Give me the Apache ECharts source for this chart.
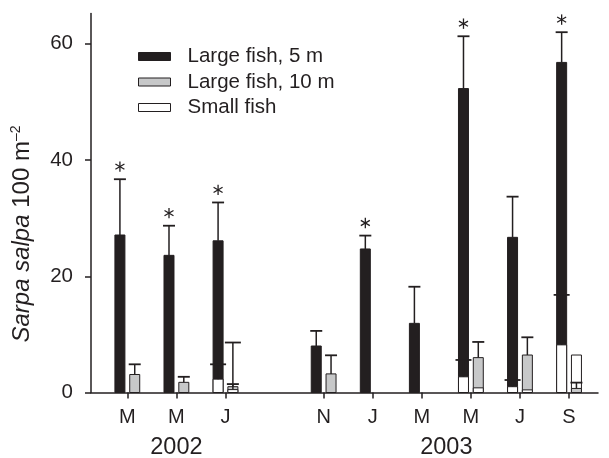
<!DOCTYPE html>
<html>
<head>
<meta charset="utf-8">
<script src="https://cdn.jsdelivr.net/npm/echarts@6/dist/echarts.min.js"></script>
<style>
  html, body { margin: 0; padding: 0; background: #fff; }
  #chart { width: 609px; height: 458px; }
</style>
</head>
<body>
<div id="chart"></div>
<script>
// Sampling occasions; slot 3 is the empty gap between the two survey years
const months = ['M', 'M', 'J', '', 'N', 'J', 'M', 'M', 'J', 'S'];
const yearNames = ['2002', '2003'];
const yearFirst = [0, 4];
const yearLast = [2, 9];

// Mean density (fish per 100 m2) and standard error
const large5    = [27.1, 23.6, 26.1, null, 8.0, 24.7, 11.9, 52.3, 26.7, 56.8];
const large5SE  = [9.6,  5.1,  6.6,  null, 2.6, 2.3,  6.3,  9.0,  7.0,  5.2];
const large10   = [3.1,  1.75, 1.0,  null, 3.2, 0,    0,    6.0,  6.45, 0.7];
const large10SE = [1.75, 0.95, 0.45, null, 3.2, 0,    0,    2.7,  3.05, 1.0];
const small5    = [0,    0,    2.3,  null, 0,   0,    0,    2.7,  1.0,  8.2];
const small5SE  = [0,    0,    2.55, null, 0,   0,    0,    2.9,  1.15, 8.6];
const small10   = [0,    0,    0.5,  null, 0,   0,    0,    0.8,  0.45, 6.45];
const small10SE = [0,    0,    8.1,  null, 0,   0,    0,    0,    0,    0];
// Significant difference between depths
const signif    = [1, 1, 1, 0, 0, 1, 0, 1, 0, 1];

const INK = '#231f20';
const GREY = '#c7c8c9';
const FONT = 'Liberation Sans, Arial, sans-serif';
const SHIFT = 7.4;   // px offset of each depth from the tick
const BAR_W = 10;

// Bar with an upward error bar; the smaller bar of a pair is drawn in front
function drawBar(api, i, mean, se, other, side, fill, capW, star) {
  const base = api.coord([i, 0]);
  const top = api.coord([i, mean]);
  const cx = base[0] + side * SHIFT;
  const kids = [];
  if (mean > 0) {
    kids.push({
      type: 'rect',
      shape: { x: cx - BAR_W / 2, y: top[1], width: BAR_W, height: base[1] - top[1] },
      style: { fill: fill, stroke: INK, lineWidth: 1 },
      z2: mean >= other ? 1 : 3
    });
  }
  if (se > 0) {
    const e = api.coord([i, mean + se]);
    kids.push({
      type: 'line',
      shape: { x1: cx, y1: top[1], x2: cx, y2: e[1] },
      style: { stroke: INK, lineWidth: 1.5 },
      z2: 5
    });
    kids.push({
      type: 'line',
      shape: { x1: cx - capW / 2, y1: e[1], x2: cx + capW / 2, y2: e[1] },
      style: { stroke: INK, lineWidth: 1.8 },
      z2: 5
    });
    if (star) {
      const sy = e[1] - 12.6, r = 5.2;
      const spokes = [90, 30, 150].map(function (a) {
        const rad = a * Math.PI / 180;
        const dx = r * Math.cos(rad), dy = r * Math.sin(rad);
        return {
          type: 'line',
          shape: { x1: cx - dx, y1: sy - dy, x2: cx + dx, y2: sy + dy },
          style: { stroke: INK, lineWidth: 1.3 },
          z2: 5
        };
      });
      Array.prototype.push.apply(kids, spokes);
    }
  }
  return { type: 'group', children: kids };
}

const rows5 = [], rows10 = [], rowsSmall = [];
months.forEach(function (m, i) {
  if (large5[i] == null) return;
  rows5.push([i, large5[i], large5SE[i], small5[i], signif[i]]);
  rows10.push([i, large10[i], large10SE[i], small10[i]]);
  rowsSmall.push([i, small5[i], small5SE[i], large5[i], -1]);
  rowsSmall.push([i, small10[i], small10SE[i], large10[i], 1]);
});

const yearRows = yearNames.map(function (y, k) {
  return [(yearFirst[k] + yearLast[k]) / 2, 0, k];
});

const tickPositions = [];
months.forEach(function (m, i) { if (m) tickPositions.push(i); });

const chart = echarts.init(document.getElementById('chart'), null, { renderer: 'canvas' });
chart.setOption({
  animation: false,
  textStyle: { fontFamily: FONT, color: INK },
  grid: { left: 91, right: 11, top: 13.6, bottom: 65.5 },
  legend: {
    orient: 'vertical',
    left: 133,
    top: 41,
    icon: 'rect',
    itemWidth: 32,
    itemHeight: 8,
    itemGap: 4.5,
    selectedMode: false,
    textStyle: { fontSize: 20.5, color: INK, padding: [0, 0, 0, 12] },
    data: [
      { name: 'Large fish, 5 m', itemStyle: { color: INK, borderColor: INK, borderWidth: 1 } },
      { name: 'Large fish, 10 m', itemStyle: { color: GREY, borderColor: INK, borderWidth: 1 } },
      { name: 'Small fish', itemStyle: { color: '#fff', borderColor: INK, borderWidth: 1 } }
    ]
  },
  xAxis: {
    type: 'value',
    min: -0.74,
    max: 9.59,
    splitLine: { show: false },
    axisLine: { onZero: false, lineStyle: { color: INK, width: 1.5 } },
    axisTick: { customValues: tickPositions, length: 6, lineStyle: { color: INK, width: 1.5 } },
    axisLabel: {
      customValues: tickPositions,
      margin: 15,
      fontSize: 20,
      color: INK,
      formatter: function (v) { return months[Math.round(v)]; }
    }
  },
  yAxis: {
    type: 'value',
    min: 0,
    max: 65.2,
    interval: 20,
    splitLine: { show: false },
    axisLine: { show: true, onZero: false, lineStyle: { color: INK, width: 1.5 } },
    axisTick: { show: true, length: 6, lineStyle: { color: INK, width: 1.5 } },
    axisLabel: { margin: 18, fontSize: 20.5, color: INK, showMaxLabel: false },
    name: '{it|Sarpa salpa} {n|100 m}{sup|–2}',
    nameLocation: 'middle',
    nameRotate: 90,
    nameGap: 55,
    nameTextStyle: {
      fontSize: 24,
      color: INK,
      padding: [0, 62, 0, 0],
      rich: {
        it: { fontStyle: 'italic', fontSize: 24, color: INK, lineHeight: 27 },
        n: { fontSize: 24, color: INK, lineHeight: 27 },
        sup: { fontSize: 14, color: INK, verticalAlign: 'top', lineHeight: 27 }
      }
    }
  },
  series: [
    {
      name: 'Large fish, 5 m',
      type: 'custom',
      itemStyle: { color: INK },
      data: rows5,
      renderItem: function (p, api) {
        return drawBar(api, api.value(0), api.value(1), api.value(2), api.value(3), -1, INK, 12, api.value(4) === 1);
      }
    },
    {
      name: 'Large fish, 10 m',
      type: 'custom',
      itemStyle: { color: GREY },
      data: rows10,
      renderItem: function (p, api) {
        return drawBar(api, api.value(0), api.value(1), api.value(2), api.value(3), 1, GREY, 12, false);
      }
    },
    {
      name: 'Small fish',
      type: 'custom',
      itemStyle: { color: '#fff' },
      data: rowsSmall,
      renderItem: function (p, api) {
        return drawBar(api, api.value(0), api.value(1), api.value(2), api.value(3), api.value(4), '#fff', 16, false);
      }
    },
    {
      name: 'years',
      type: 'custom',
      silent: true,
      data: yearRows,
      renderItem: function (p, api) {
        const pt = api.coord([api.value(0), 0]);
        return {
          type: 'text',
          x: pt[0],
          y: pt[1] + 55,
          style: {
            text: yearNames[api.value(2)],
            fontSize: 23.5,
            fontFamily: FONT,
            fill: INK,
            align: 'center',
            verticalAlign: 'middle'
          }
        };
      }
    }
  ]
});
</script>
</body>
</html>
